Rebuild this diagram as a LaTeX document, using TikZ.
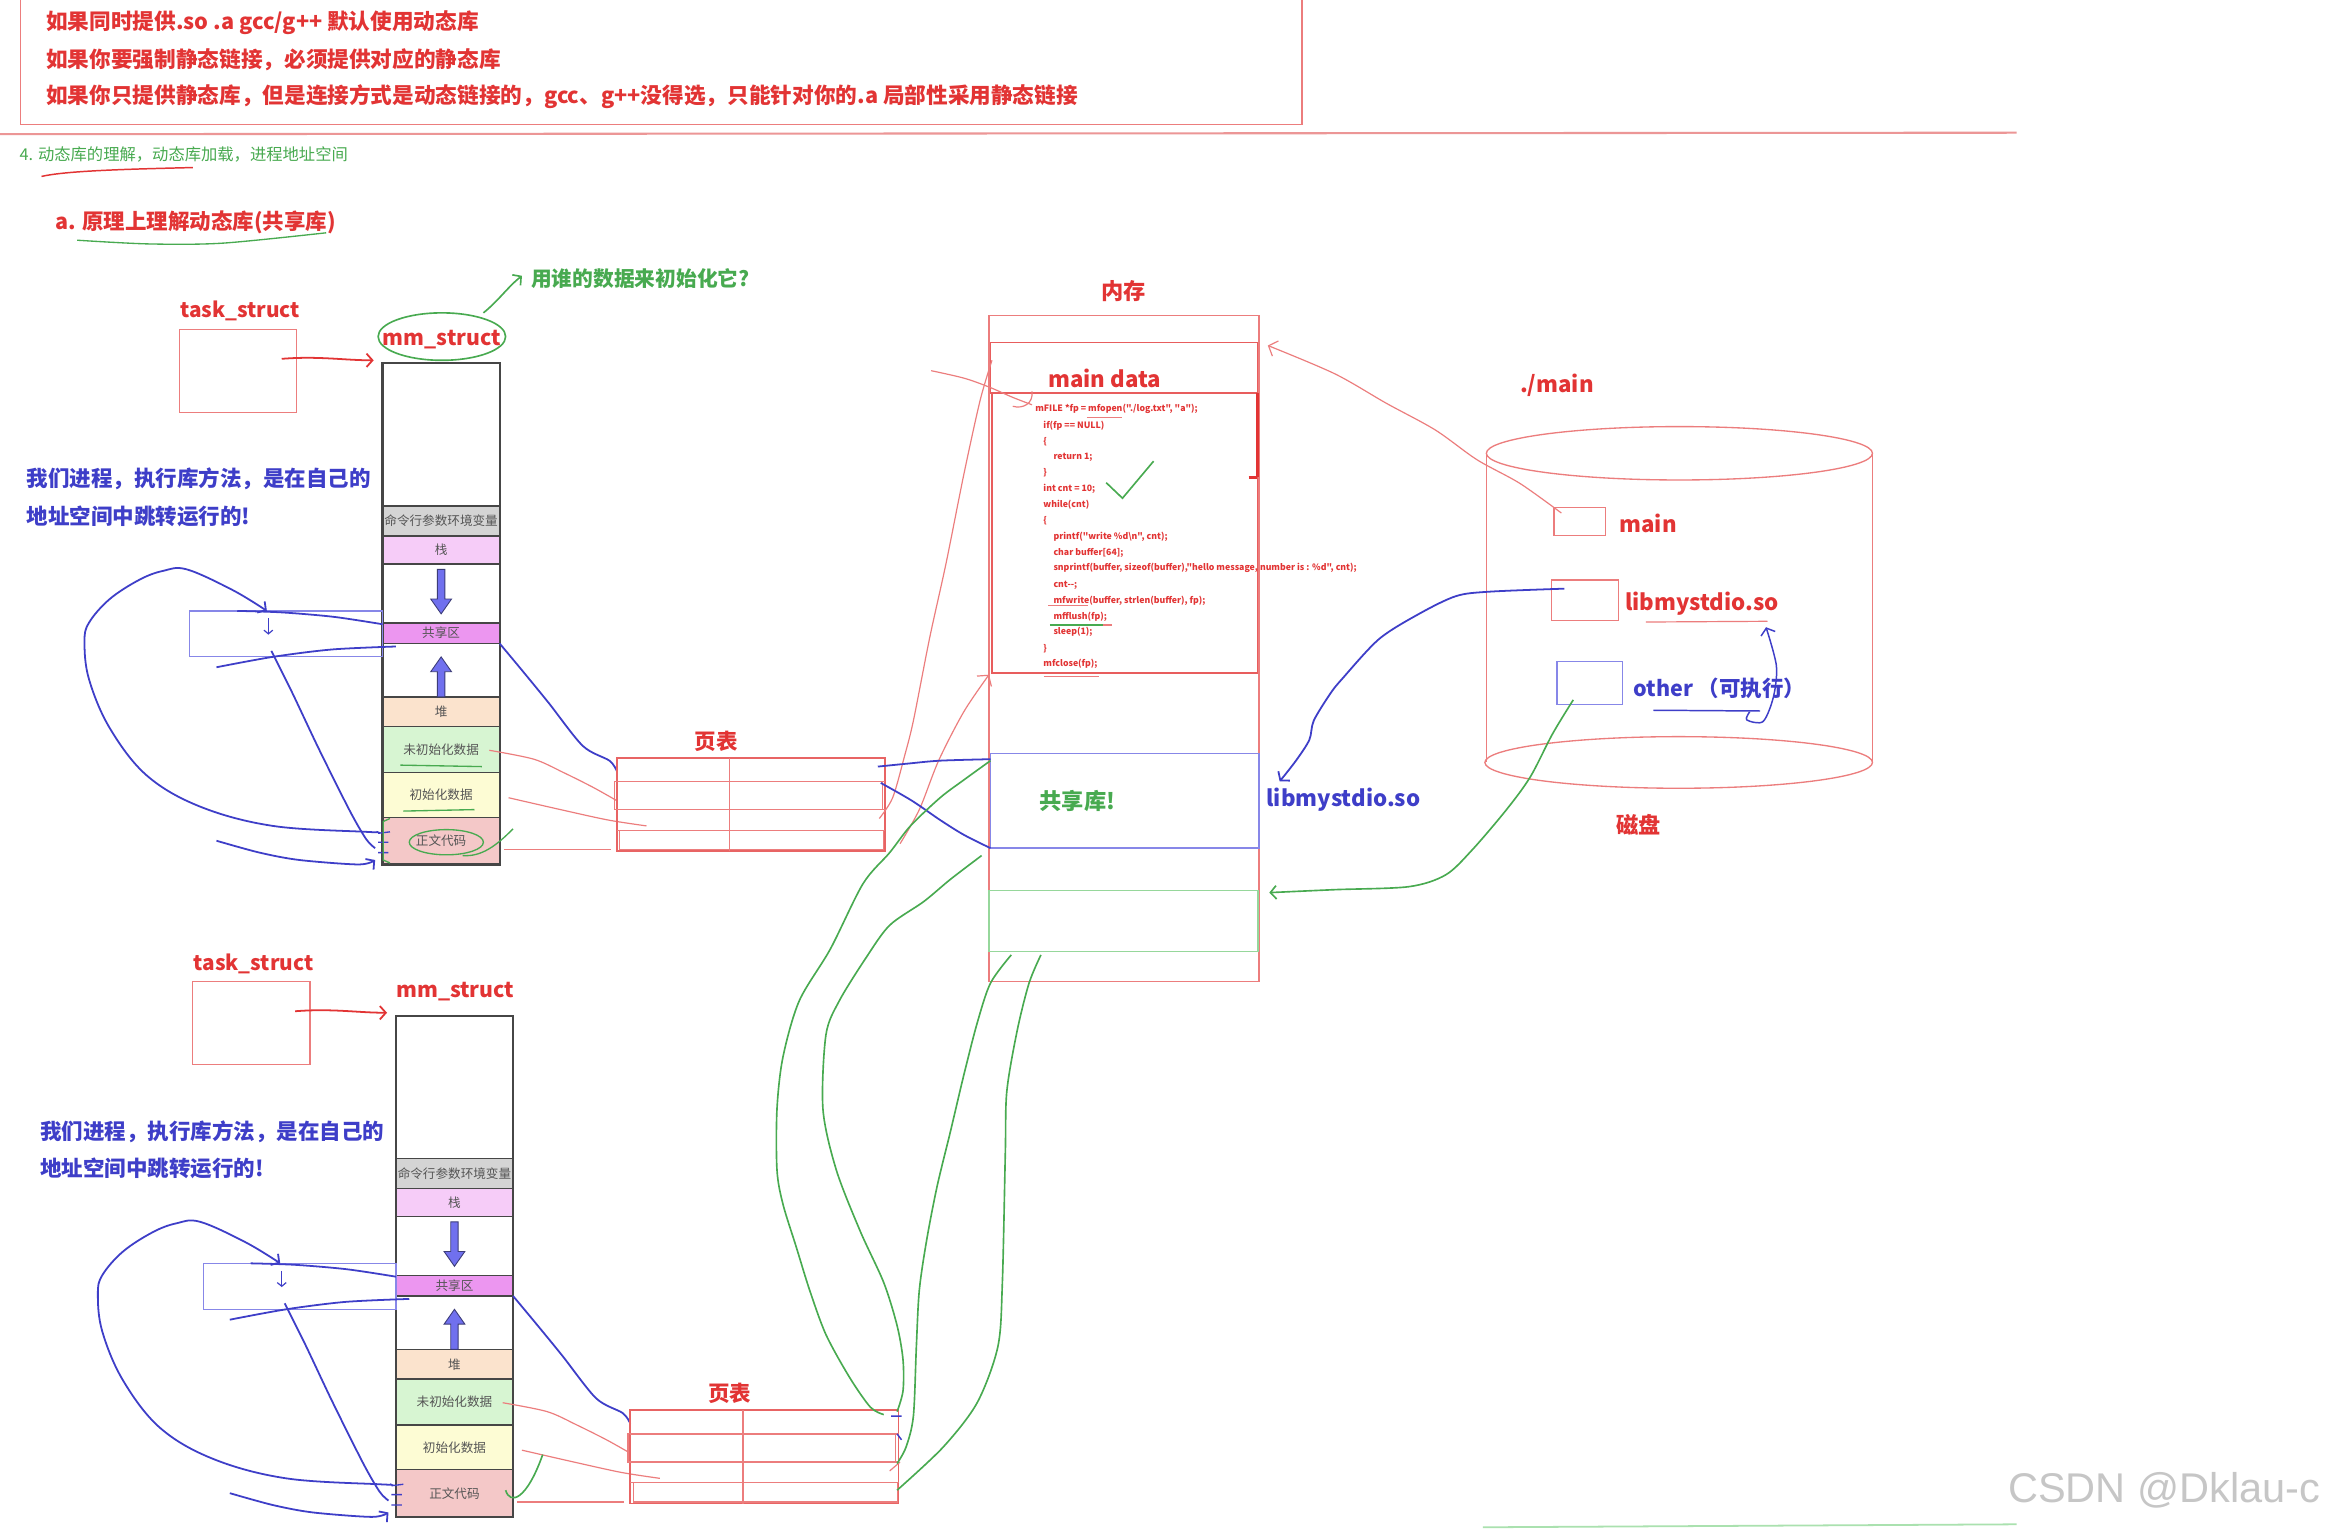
\documentclass[tikz,border=0pt]{standalone}
\usepackage{fontspec}
\setmainfont{Noto Sans CJK SC}
\newfontfamily\codefont{Noto Sans CJK SC}
\newfontfamily\wmfont{Liberation Sans}
\usetikzlibrary{arrows.meta}
\newcommand\myfs[1]{\fontsize{#1}{#1}\selectfont}
\definecolor{rd}{RGB}{226,52,52}
\definecolor{rdl}{RGB}{236,125,125}
\definecolor{gr}{RGB}{72,170,80}
\definecolor{bl}{RGB}{62,62,200}
\definecolor{bll}{RGB}{135,135,232}
\definecolor{colb}{RGB}{70,70,70}
\definecolor{segtxt}{RGB}{85,85,85}
\definecolor{cgray}{RGB}{212,212,212}
\definecolor{cpink}{RGB}{246,204,248}
\definecolor{cmag}{RGB}{236,150,240}
\definecolor{cpeach}{RGB}{251,227,205}
\definecolor{cgreen}{RGB}{215,245,210}
\definecolor{cyellow}{RGB}{253,252,212}
\definecolor{cred}{RGB}{244,200,200}
\definecolor{arrfill}{RGB}{112,112,238}
\definecolor{arrdraw}{RGB}{60,60,120}
\begin{document}
\begin{tikzpicture}[x=1pt,y=-1pt,
  >={Straight Barb[length=4pt,width=9pt]},
  rtxt/.style={text=rd,font={\bfseries\myfs{15}},inner sep=0pt},
  gtxt/.style={text=gr,font={\bfseries\myfs{14}},inner sep=0pt},
  btxt/.style={text=bl,font={\bfseries\myfs{14.5}},inner sep=0pt},
  code/.style={anchor=west,text=rd,font={\codefont\bfseries\myfs{5.9}},inner sep=0pt},
  seg/.style={draw=colb,line width=1pt,minimum width=79,inner sep=0pt,text=segtxt,font={\myfs{8.5}}},
  bstroke/.style={draw=bl,line width=1.2pt},
  gstroke/.style={draw=gr,line width=1.1pt},
  rthin/.style={draw=rdl,line width=0.8pt},
  boxr/.style={draw=rdl,line width=0.9pt}
]
\fill[white] (0,0) rectangle (1568,1032);
\useasboundingbox (0,0) rectangle (1568,1032);

% ---------- top notes ----------
\draw[boxr] (14,-5) -- (14,84) -- (878,84) -- (878,-5);
\node[rtxt,font={\bfseries\myfs{14.6}},anchor=west] (n1) at (31,15) {如果同时提供.so .a gcc/g++ 默认使用动态库};
\node[rtxt,font={\bfseries\myfs{14.6}},anchor=west] (n2) at (31,40) {如果你要强制静态链接，必须提供对应的静态库};
\node[rtxt,font={\bfseries\myfs{14.6}},anchor=west] (n3) at (31,65) {如果你只提供静态库，但是连接方式是动态链接的，gcc、g++没得选，只能针对你的.a 局部性采用静态链接};
\draw[draw={rgb,255:red,236;green,150;blue,150},line width=1.4pt] (0,90.5) -- (1360,89.5);
\node[text=gr,font={\myfs{11}},inner sep=0pt,anchor=west] (sec4) at (13,104) {4. 动态库的理解，动态库加载，进程地址空间};
\draw[rd,line width=1pt] (28,119) .. controls (45,115) and (90,114) .. (130,113);
\node[rtxt,font={\bfseries\myfs{14.5}},anchor=west] (suba) at (37,150) {a. 原理上理解动态库(共享库)};
\draw[gstroke,line width=0.9pt] plot[smooth] coordinates {(52,162) (100,164.5) (150,164) (220,157)};

% ---------- two process blocks ----------
\foreach \sx/\sy/\p in {0/0/u,9/440/l}{
\begin{scope}[shift={(\sx,\sy)}]
  \node[rtxt,font={\bfseries\myfs{14}}] (\p task) at (162,210) {task\_struct};
  \draw[boxr] (121,222) rectangle (200,278);
  \node[rtxt,font={\bfseries\myfs{14.3}}] (\p mm) at (298,229) {mm\_struct};
  \draw[rd,line width=1.2pt,->] (190,242) .. controls (215,240) and (232,243) .. (252,243);
  % column
  \node[seg,fill=white,minimum height=96.3] (\p top) at (297.5,293.15) {};
  \node[seg,fill=cgray,minimum height=20.3] (\p cmd) at (297.5,351.45) {命令行参数环境变量};
  \node[seg,fill=cpink,minimum height=18.9] (\p stk) at (297.5,371.05) {栈};
  \node[seg,fill=white,minimum height=39.6] (\p gap1) at (297.5,400.3) {};
  \node[seg,fill=cmag,minimum height=13.8] (\p shr) at (297.5,427) {共享区};
  \node[seg,fill=white,minimum height=36.2] (\p gap2) at (297.5,452) {};
  \node[seg,fill=cpeach,minimum height=20] (\p heap) at (297.5,480.1) {堆};
  \node[seg,fill=cgreen,minimum height=31] (\p bss) at (297.5,505.6) {未初始化数据};
  \node[seg,fill=cyellow,minimum height=30.1] (\p dat) at (297.5,536.15) {初始化数据};
  \node[seg,fill=cred,minimum height=31.8] (\p txt) at (297.5,567.1) {正文代码};
  \draw[colb,line width=1.5pt] (258,245) rectangle (337,583);
  % growth arrows
  \filldraw[fill=arrfill,draw=arrdraw,line width=0.6pt] (295,384) -- (300,384) -- (300,404) -- (304.5,404) -- (297.5,414) -- (290.5,404) -- (295,404) -- cycle;
  \filldraw[fill=arrfill,draw=arrdraw,line width=0.6pt] (295,470) -- (300,470) -- (300,453) -- (304.5,453) -- (297.5,443) -- (290.5,453) -- (295,453) -- cycle;
  % explanation
  \node[btxt,anchor=west] (\p ex1) at (18,323) {我们进程，执行库方法，是在自己的};
  \node[btxt,anchor=west] (\p ex2) at (18,348) {地址空间中跳转运行的!};
  % blue sketch
  \draw[draw=bll,line width=0.8pt] (128,412) rectangle (258,443);
  \draw[bl,line width=0.8pt,->,>={Straight Barb[length=2.5pt,width=6pt]}] (181,417) -- (181,428);
  \draw[bstroke,->] plot[smooth,tension=0.6] coordinates {(254,561) (247,561) (184,557) (135,544) (99,523) (74,491) (60,458) (57,433) (60,420) (74,404) (94,391) (110,385) (126,384) (157,398) (180,412)};
  \draw[bstroke] plot[smooth] coordinates {(160,412) (190,413) (225,416) (258,421)};
  \draw[bstroke] plot[smooth] coordinates {(146,450) (184,443) (224,438) (267,436)};
  \draw[bstroke] plot[smooth] coordinates {(183,439) (197,467) (215,505) (236,547) (247,566) (253,572)};
  \draw[bstroke,->] plot[smooth] coordinates {(146,567) (175,575) (202,580) (242,583) (253,580)};
  \draw[bstroke,line width=0.9pt] (255,562) -- (263,561) (255,568) -- (262,568) (255,575) -- (262,575);
  \draw[bstroke] plot[smooth] coordinates {(337,434) (352,452) (370,474) (393,503) (411,513) (416,520)};
  % red mappings to page table
  \draw[rthin] plot[smooth] coordinates {(330,506) (360,512) (380,521) (400,531) (416,540)};
  \draw[rthin] plot[smooth] coordinates {(343,538) (378,546) (410,553) (436,557)};
  \draw[rthin] (340,573) -- (412,573);
  % page table
  \draw[draw={rgb,255:red,232;green,100;blue,100},line width=1.1pt] (416,511) rectangle (597,574);
  \draw[rthin,line width=0.9pt] (492,511) -- (492,574) (416,527) -- (597,527) (416,546) -- (597,546) (416,560) -- (597,560);
  \draw[rthin] (414.5,527) rectangle (595,546) (418,560) rectangle (596,573);
  \node[rtxt,font={\bfseries\myfs{14.5}}] (\p ptl) at (483,500) {页表};
\end{scope}}

% upper-only green marks
\draw[gstroke] (298,227) ellipse [x radius=43, y radius=16];
\draw[gstroke,->] (326,211) .. controls (336,203) and (343,193) .. (352,186);
\node[gtxt,anchor=west] (who) at (358,188) {用谁的数据来初始化它?};
\draw[gstroke,line width=0.9pt] (270,516) -- (325,517) (272,547) -- (320,546);
\draw[gstroke,line width=0.9pt] (301,568) ellipse [x radius=25, y radius=8.5];
\draw[gstroke,line width=0.9pt] (312,577) .. controls (325,578) and (335,570) .. (346,559);
\draw[gstroke,line width=0.9pt] (263,552) -- (258.5,554) -- (258.5,580) -- (263,582);
% lower-only marks
\draw[gstroke] (341,1005) .. controls (344,1015) and (355,1012) .. (366,981);
\draw[bstroke,line width=1pt] (601,955) -- (608,955) (605,967) -- (608,971);
\draw[rthin] (600,992) -- (607,986);

% ---------- memory ----------
\node[rtxt] (memt) at (758,196) {内存};
\draw[boxr] (667,213) rectangle (849,662);
\draw[draw=rd!80,line width=1.2pt] (668,231) rectangle (848,265);
\node[rtxt,font={\bfseries\myfs{15}}] (maind) at (745,255) {main data};
\draw[draw=rd!80,line width=1pt] (669,265) rectangle (848,454);
\draw[rd,line width=1.6pt] (848,265) -- (848,322) (842,322) -- (848,322);
\node[code] (c1) at (698,276) {mFILE *fp = mfopen("./log.txt", "a");};
\node[code] (c2) at (703.5,287.3) {if(fp == NULL)};
\node[code] (c3) at (703.5,297.8) {\{};
\node[code] (c4) at (710.3,308.4) {return 1;};
\node[code] (c5) at (703.5,318.7) {\}};
\node[code] (c6) at (703.5,330) {int cnt = 10;};
\node[code] (c7) at (703.5,340.6) {while(cnt)};
\node[code] (c8) at (703.5,351.1) {\{};
\node[code] (c9) at (710.3,361.9) {printf("write \%d\textbackslash n", cnt);};
\node[code] (c10) at (710.3,372.7) {char buffer[64];};
\node[code] (c11) at (710.3,383.3) {snprintf(buffer, sizeof(buffer),"hello message, number is : \%d", cnt);};
\node[code] (c12) at (710.3,394.5) {cnt--;};
\node[code] (c13) at (710.3,405) {mfwrite(buffer, strlen(buffer), fp);};
\node[code] (c14) at (710.3,415.9) {mfflush(fp);};
\node[code] (c15) at (710.3,426.4) {sleep(1);};
\node[code] (c16) at (703.5,437.2) {\}};
\node[code] (c17) at (703.5,447.8) {mfclose(fp);};
\draw[rthin] (733,281.5) -- (757,281.5) (707,408.5) -- (734,408.5) (704,456) -- (741,456) (736,421.5) -- (750,421.5);
\draw[gstroke,line width=0.9pt] (708,421.5) -- (744,421.5);
\draw[gstroke] (746,325.5) -- (757,336) -- (778,311);
\draw[rthin] plot[smooth] coordinates {(628,250) (650,255) (667,261) (683,268) (696,273)};
\draw[rthin] (683,274) .. controls (690,276) and (697,272) .. (696,264);
% shared lib and green area
\draw[draw=bll,line width=1pt] (668,508) rectangle (849,572);
\node[gtxt,font={\bfseries\myfs{15}},anchor=west] (shlib) at (701,540.5) {共享库!};
\draw[draw={rgb,255:red,150;green,215;blue,155},line width=1pt] (667,600.6) rectangle (848.5,641.7);
% page table -> memory
\draw[rthin] plot[smooth] coordinates {(669,243) (661,270) (650,320) (638,380) (627,430) (616,486) (610,510) (602,538) (593,552)};
\draw[rthin,->,>={Straight Barb[length=5pt,width=12pt]}] plot[smooth] coordinates {(607,569) (620,546) (633,513) (650,480) (667,455)};
\draw[bstroke] plot[smooth] coordinates {(592,517) (612,515) (634,513) (668,512)};
\draw[bstroke] plot[smooth] coordinates {(594,528) (615,540) (634,553) (650,563) (668,572)};
% green curves from lower page table
\draw[gstroke] plot[smooth] coordinates {(668,513) (650,526) (634,538) (614,557) (600,575) (582,596) (560,640) (539,675) (528,713) (524,748) (524,789) (528,812) (537,841) (546,870) (557,900) (573,929) (587,949) (596,954)};
\draw[gstroke] plot[smooth] coordinates {(662,577) (641,593) (623,608) (600,624) (584,646) (566,675) (557,698) (555,748) (564,789) (580,830) (596,865) (605,894) (609,917) (609,938) (605,952)};
\draw[gstroke] plot[smooth] coordinates {(682,644) (668,663) (659,690) (650,725) (641,763) (632,800) (625,836) (620,870) (618,908) (616,955) (611,976) (605,987)};
\draw[gstroke] plot[smooth] coordinates {(702,644) (694,663) (686,695) (679,736) (678,777) (676,865) (673,908) (659,946) (636,976) (605,1005)};

% ---------- disk ----------
\node[rtxt] (dotmain) at (1050,260) {./main};
\draw[boxr] (1002.4,305.7) -- (1002.4,514.2) (1262.8,305.7) -- (1262.8,514.2);
\draw[boxr] (1132.6,305.7) ellipse [x radius=130.2, y radius=18];
\draw[boxr] (1132.1,514.2) ellipse [x radius=130.7, y radius=17.4];
\draw[boxr] (1048,342.3) rectangle (1082.7,361.2);
\node[rtxt,anchor=west] (dmain) at (1092,352.9) {main};
\draw[boxr] (1046.3,391.1) rectangle (1091.7,418.5);
\node[rtxt,anchor=west] (dlib) at (1095.7,406.8) {libmystdio.so};
\draw[rthin] (1110,419.5) -- (1192,419);
\draw[draw=bll,line width=0.9pt] (1050,446.2) rectangle (1094,475);
\node[btxt,font={\bfseries\myfs{14.5}},anchor=west] (dother) at (1101.4,464.2) {other （可执行）};
\draw[bstroke,line width=1pt] (1115,479) -- (1187,479.5);
\draw[bstroke,line width=1pt,->,>={Straight Barb[length=4pt,width=10pt]}] plot[smooth] coordinates {(1180,480) (1178,485.5) (1189,486.6) (1196,470) (1198,449) (1191,423)};
\node[rtxt] (disk) at (1105,556) {磁盘};
% disk -> memory
\draw[rthin,->,>={Straight Barb[length=5pt,width=11pt]}] plot[smooth] coordinates {(1053,346) (1025,326) (996,310) (968,290) (935,272) (900,252) (855,233)};
\draw[bstroke,->,>={Straight Barb[length=4pt,width=10pt]}] plot[smooth] coordinates {(1055,397) (1005,399) (982,402) (957,414) (930,431) (905,458) (897,468) (886,486) (883,499) (874,513) (863,527)};
\node[btxt,font={\bfseries\myfs{15}},anchor=west] (libso) at (854,539) {libmystdio.so};
\draw[gstroke,->] plot[smooth] coordinates {(1061,472) (1047,495) (1032,524) (1016,546) (993,573) (975,590) (950,598) (900,600) (856,602)};

% ---------- footer ----------
\draw[draw={rgb,255:red,170;green,225;blue,175},line width=1.2pt] (1000,1030) -- (1360,1028);
\node[text=gray!45,font={\wmfont\myfs{28}},inner sep=0pt,anchor=east] (wm) at (1565,1005) {CSDN @Dklau-c};
\end{tikzpicture}
\end{document}
